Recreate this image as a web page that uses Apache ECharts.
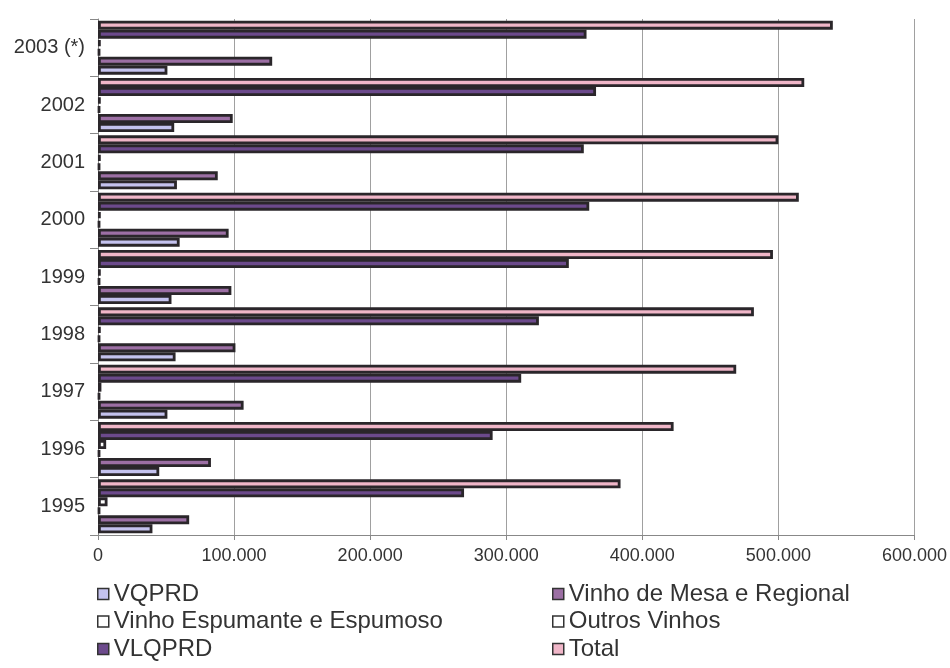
<!DOCTYPE html>
<html>
<head>
<meta charset="utf-8">
<script src="https://cdn.jsdelivr.net/npm/echarts@6/dist/echarts.min.js"></script>
<style>
  html, body { margin: 0; padding: 0; background: #fff; }
  #chart { width: 950px; height: 668px; }
</style>
</head>
<body>
<div id="chart"></div>
<script>
// Years (bottom to top)
const categories = ['1995', '1996', '1997', '1998', '1999', '2000', '2001', '2002', '2003 (*)'];

// Production by wine type (hl)
const vqprd      = [40000, 45000, 51000, 57000, 54000, 60000, 58000, 56000, 51000];
const vinhoMesa  = [67000, 83000, 107000, 101000, 98000, 96000, 88000, 99000, 128000];
const espumante  = [1500, 1500, 1500, 1500, 1500, 1500, 1500, 1500, 1500];
const outros     = [7000, 6000, 2500, 2000, 2000, 2000, 2000, 2000, 2000];
const vlqprd     = [269000, 290000, 311000, 324000, 346000, 361000, 357000, 366000, 359000];
const total      = [384000, 423000, 469000, 482000, 496000, 515000, 500000, 519000, 540000];

const seriesNames = ['VQPRD', 'Vinho de Mesa e Regional', 'Vinho Espumante e Espumoso',
                     'Outros Vinhos', 'VLQPRD', 'Total'];
const seriesData = [vqprd, vinhoMesa, espumante, outros, vlqprd, total];
const seriesColors = ['#c4c2ee', '#9c6fa4', '#ffffff', '#ffffff', '#6c4a8c', '#f0b6c8'];

const xTicks = [0, 100000, 200000, 300000, 400000, 500000, 600000];

const chart = echarts.init(document.getElementById('chart'));

const fmt = v => v === 0 ? '0' : String(v).replace(/\B(?=(\d{3})+(?!\d))/g, '.');

const legendBase = {
  orient: 'vertical', top: 582, padding: 0,
  icon: 'rect', itemWidth: 11, itemHeight: 11, itemGap: 3.5,
  textStyle: { fontSize: 24, color: '#333', lineHeight: 23 },
  itemStyle: { borderColor: '#333', borderWidth: 1.5 }
};

// Bars stack top-down inside each year: Total first, VQPRD last
const order = [5, 4, 3, 2, 1, 0];

chart.setOption({
  backgroundColor: '#ffffff',
  animation: false,
  textStyle: { fontFamily: 'Liberation Sans, Arial, sans-serif', color: '#333' },
  grid: { left: 98, right: 34, top: 19, bottom: 133, containLabel: false },
  xAxis: {
    type: 'value',
    min: xTicks[0],
    max: xTicks[xTicks.length - 1],
    interval: 100000,
    axisLine: { show: true, lineStyle: { color: '#888', width: 1 } },
    axisTick: { show: true, length: 5, lineStyle: { color: '#888' } },
    axisLabel: { formatter: fmt, fontSize: 18, color: '#333', margin: 12 },
    splitLine: { show: true, lineStyle: { color: '#a0a0a0', width: 1 } }
  },
  yAxis: {
    type: 'category',
    data: categories,
    axisLine: { show: true, lineStyle: { color: '#888', width: 1 } },
    axisTick: { show: true, length: 8, lineStyle: { color: '#888' } },
    axisLabel: { fontSize: 20, color: '#333', margin: 13 }
  },
  legend: [
    Object.assign({}, legendBase, { left: 97, data: [seriesNames[0], seriesNames[2], seriesNames[4]] }),
    Object.assign({}, legendBase, { left: 552, data: [seriesNames[1], seriesNames[3], seriesNames[5]] })
  ],
  series: order.map(i => ({
    name: seriesNames[i],
    type: 'bar',
    data: seriesData[i],
    barWidth: 9,
    barGap: '0%',
    itemStyle: { color: seriesColors[i], borderColor: '#2a262a', borderWidth: 2.8 }
  }))
});
</script>
</body>
</html>
